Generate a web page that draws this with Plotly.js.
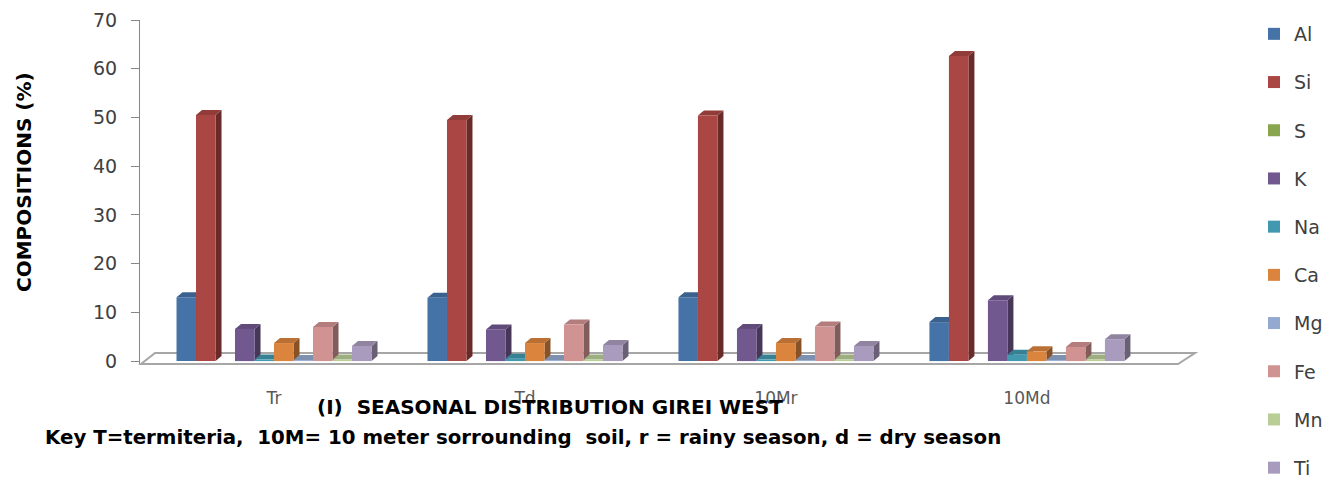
<!DOCTYPE html>
<html><head><meta charset="utf-8">
<script src="https://cdn.plot.ly/plotly-3.0.1.min.js"></script>
<style>html,body{margin:0;padding:0;background:#fff}#chart{width:1342px;height:487px}</style>
</head><body><div id="chart"></div>
<script>
// ---- data ----
const categories = ['Tr', 'Td', '10Mr', '10Md'];
const elements = ['Al', 'Si', 'S', 'K', 'Na', 'Ca', 'Mg', 'Fe', 'Mn', 'Ti'];
const Al = [13.1, 13.0, 13.1, 8.0];
const Si = [50.5, 49.5, 50.4, 62.6];
const S  = [0, 0, 0, 0];
const K  = [6.6, 6.5, 6.6, 12.5];
const Na = [0.3, 0.5, 0.3, 1.3];
const Ca = [3.7, 3.7, 3.7, 2.0];
const Mg = [0.2, 0.2, 0.2, 0.2];
const Fe = [7.0, 7.5, 7.1, 2.9];
const Mn = [0.3, 0.3, 0.3, 0.3];
const Ti = [3.1, 3.3, 3.1, 4.5];
const yTicks = [0, 10, 20, 30, 40, 50, 60, 70];
const yTitle = 'COMPOSITIONS (%)';
const chartTitle = '(I)  SEASONAL DISTRIBUTION GIREI WEST';
const keyText = 'Key T=termiteria,  10M= 10 meter sorrounding  soil, r = rainy season, d = dry season';

const seriesValues = [Al, Si, S, K, Na, Ca, Mg, Fe, Mn, Ti];
const colors = ['#4572A7', '#AA4643', '#89A54E', '#71588F', '#4198AF', '#DB843D', '#93A9CF', '#D19392', '#B9CD96', '#A99BBD'];

// ---- geometry (style) ----
const W = 1342, H = 487;
const plotL = 140, plotR = 1178, plotT = 20, plotB = 364;
const xr = [-0.534, 3.602];
const yr = [-0.6, 70];
const pxPerX = (plotR - plotL) / (xr[1] - xr[0]);
const pxPerY = (plotB - plotT) / (yr[1] - yr[0]);
const barW = 19.5 / pxPerX;
const groupStart = -barW * elements.length / 2;
const dx = 6 / pxPerX, dy = 5 / pxPerY;

function shade(hex, f) {
  const n = parseInt(hex.slice(1), 16);
  const r = Math.round(((n >> 16) & 255) * f), g = Math.round(((n >> 8) & 255) * f), b = Math.round((n & 255) * f);
  return 'rgb(' + r + ',' + g + ',' + b + ')';
}
const px2paperX = p => (p - plotL) / (plotR - plotL);
const px2paperY = p => 1 - p / H;

const traces = elements.map((name, s) => ({
  type: 'bar', name: name, x: categories, y: seriesValues[s],
  width: barW, offset: groupStart + s * barW,
  marker: { color: colors[s], line: { width: 0 } },
  legendgroup: name, hoverinfo: 'x+y+name'
}));

const shapes = [];
// floor
const floorPath = 'M ' + px2paperX(141) + ',' + px2paperY(364) + ' L ' + px2paperX(155) + ',' + px2paperY(353) +
  ' L ' + px2paperX(1195) + ',' + px2paperY(353) + ' L ' + px2paperX(1178) + ',' + px2paperY(364) + ' Z';
shapes.push({ type: 'path', xref: 'paper', yref: 'paper', path: floorPath, line: { color: '#a6a6a6', width: 2 }, fillcolor: 'rgba(0,0,0,0)', layer: 'below' });
// 3D side & top faces computed from the data through the axes
seriesValues.forEach((vals, s) => {
  vals.forEach((v, i) => {
    if (!(v > 0)) return;
    const x0 = i + groupStart + s * barW, x1 = x0 + barW;
    shapes.push({ type: 'path', xref: 'x', yref: 'y', layer: 'below', line: { width: 0 }, fillcolor: shade(colors[s], 0.62),
      path: `M ${x1},0 L ${x1 + dx},${dy} L ${x1 + dx},${v + dy} L ${x1},${v} Z` });
    shapes.push({ type: 'path', xref: 'x', yref: 'y', layer: 'below', line: { width: 0 }, fillcolor: shade(colors[s], 0.85),
      path: `M ${x0},${v} L ${x1},${v} L ${x1 + dx},${v + dy} L ${x0 + dx},${v + dy} Z` });
  });
});

const font = 'DejaVu Sans, sans-serif';
const layout = {
  width: W, height: H,
  margin: { l: plotL, r: W - plotR, t: 0, b: 0, pad: 0 },
  paper_bgcolor: '#fff', plot_bgcolor: 'rgba(0,0,0,0)',
  barmode: 'overlay', showlegend: true,
  font: { family: font, color: '#404040' },
  xaxis: { type: 'category', range: xr, showline: false, ticks: '', showgrid: false, zeroline: false,
    tickfont: { family: font, size: 17, color: '#595959' }, ticklabelstandoff: 22, fixedrange: true },
  yaxis: { range: yr, domain: [1 - plotB / H, 1 - plotT / H], tickvals: yTicks, ticktext: yTicks.map(String),
    showline: true, linecolor: '#868686', linewidth: 1, ticks: 'outside', ticklen: 8, tickcolor: '#868686',
    showgrid: false, zeroline: false, tickfont: { family: font, size: 19, color: '#404040' }, ticklabelstandoff: 10, fixedrange: true },
  legend: { x: px2paperX(1254), y: px2paperY(51), xanchor: 'left', yanchor: 'top', tracegroupgap: 20.5,
    font: { family: font, size: 19, color: '#404040' }, bgcolor: 'rgba(0,0,0,0)', itemclick: false },
  shapes: shapes,
  annotations: [
    { text: '<b>' + yTitle + '</b>', xref: 'paper', yref: 'paper', x: px2paperX(24), y: px2paperY(182), textangle: -90,
      showarrow: false, font: { family: font, size: 20, color: '#000' }, xanchor: 'center', yanchor: 'middle' },
    { text: '<b>' + chartTitle + '</b>', xref: 'paper', yref: 'paper', x: px2paperX(550), y: px2paperY(407),
      showarrow: false, font: { family: font, size: 20, color: '#000' }, xanchor: 'center', yanchor: 'middle' },
    { text: '<b>' + keyText + '</b>', xref: 'paper', yref: 'paper', x: px2paperX(43), y: px2paperY(437),
      showarrow: false, font: { family: font, size: 19.8, color: '#000' }, xanchor: 'left', yanchor: 'middle' }
  ]
};
Plotly.newPlot('chart', traces, layout, { displayModeBar: false, staticPlot: true });
</script></body></html>
